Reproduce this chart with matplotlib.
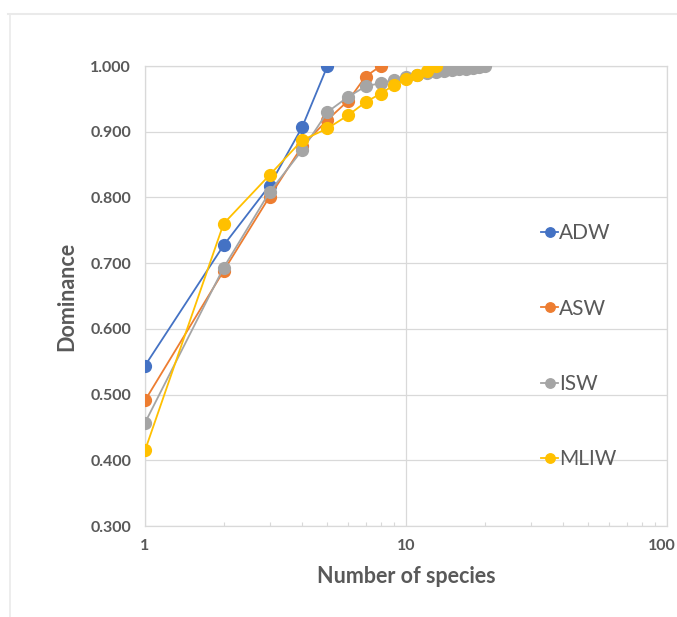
import matplotlib
matplotlib.use("Agg")
import matplotlib.pyplot as plt
import matplotlib.transforms as mtransforms
from matplotlib.lines import Line2D
from matplotlib.ticker import FixedLocator, LogLocator, NullFormatter

plt.rcParams['font.family'] = ['Lato', 'DejaVu Sans']

# Cumulative dominance vs. number of species (ranked)
adw_n = [1, 2, 3, 4, 5]
adw = [0.544, 0.727, 0.818, 0.907, 1.000]

asw_n = [1, 2, 3, 4, 5, 6, 7, 8]
asw = [0.491, 0.688, 0.801, 0.878, 0.918, 0.947, 0.984, 1.000]

isw_n = list(range(1, 21))
isw = [0.457, 0.693, 0.808, 0.872, 0.930, 0.953, 0.969, 0.974, 0.979, 0.983,
       0.987, 0.989, 0.991, 0.993, 0.994, 0.995, 0.996, 0.997, 0.999, 1.000]

mliw_n = list(range(1, 14))
mliw = [0.415, 0.760, 0.834, 0.887, 0.905, 0.925, 0.945, 0.958, 0.971, 0.980,
        0.987, 0.992, 1.000]

series = [
    ("ADW", adw_n, adw, "#4472C4"),
    ("ASW", asw_n, asw, "#ED7D31"),
    ("ISW", isw_n, isw, "#A5A5A5"),
    ("MLIW", mliw_n, mliw, "#FFC000"),
]

y_ticks = [0.3, 0.4, 0.5, 0.6, 0.7, 0.8, 0.9, 1.0]
x_ticks = [1, 10, 100]

W, H = 677, 617
fig = plt.figure(figsize=(W / 100, H / 100), dpi=100)
fig.patch.set_facecolor("white")

left, right, top, bottom = 145, 667, 66, 526
ax = fig.add_axes([left / W, 1 - bottom / H, (right - left) / W, (bottom - top) / H])

grid_c = "#D9D9D9"
text_c = "#595959"

handles = []
for name, n, v, c in series:
    h, = ax.plot(n, v, color=c, lw=1.3, marker="o", ms=8.5,
                 markeredgecolor=c, markerfacecolor=c, label=name, zorder=3)
    handles.append(h)

ax.set_xscale("log")
ax.set_xlim(1, 100)
ax.set_ylim(0.3, 1.0)

ax.xaxis.set_major_locator(FixedLocator(x_ticks))
ax.xaxis.set_minor_locator(LogLocator(base=10, subs=range(2, 10)))
ax.xaxis.set_minor_formatter(NullFormatter())
ax.set_xticklabels([str(t) for t in x_ticks])
ax.set_yticks(y_ticks)
ax.set_yticklabels([f"{t:.3f}" for t in y_ticks])

ax.tick_params(axis="x", which="major", length=0, pad=9, labelsize=11.5,
               labelcolor=text_c)
ax.tick_params(axis="x", which="minor", direction="in", length=3,
               width=0.8, color=grid_c)
ax.tick_params(axis="y", which="both", length=0, pad=10, labelsize=11.5,
               labelcolor=text_c)
for lab in ax.get_xticklabels() + ax.get_yticklabels():
    lab.set_fontweight("bold")

# keep the rightmost x label inside the figure edge
last = ax.get_xticklabels()[-1]
last.set_transform(last.get_transform() +
                   mtransforms.ScaledTranslation(-5 / 100, 0, fig.dpi_scale_trans))

ax.grid(True, which="major", axis="both", color=grid_c, lw=0.9, zorder=0)
ax.set_axisbelow(True)
for s in ax.spines.values():
    s.set_color(grid_c)
    s.set_linewidth(0.9)

ax.set_xlabel("Number of species", fontsize=15.5, fontweight="bold",
              color=text_c, labelpad=10)
ax.set_ylabel("Dominance", fontsize=15.5, fontweight="bold",
              color=text_c, labelpad=9)

leg = ax.legend(handles=handles, loc="upper left",
                bbox_to_anchor=(531 / W, 1 - 213 / H),
                bbox_transform=fig.transFigure, frameon=False,
                fontsize=15, handlelength=0.8, handletextpad=0.05,
                labelspacing=2.65, markerscale=0.8, borderpad=0)
for t in leg.get_texts():
    t.set_color(text_c)

# Chart frame (top and left edges)
frame_c = "#EAEAEA"
fig.add_artist(Line2D([8 / W, 1], [1 - 14 / H, 1 - 14 / H], color=frame_c,
                      lw=1.5, transform=fig.transFigure))
fig.add_artist(Line2D([10 / W, 10 / W], [0, 1 - 14 / H], color=frame_c,
                      lw=1.2, transform=fig.transFigure))

fig.savefig("out.png", dpi=100, facecolor="white")
